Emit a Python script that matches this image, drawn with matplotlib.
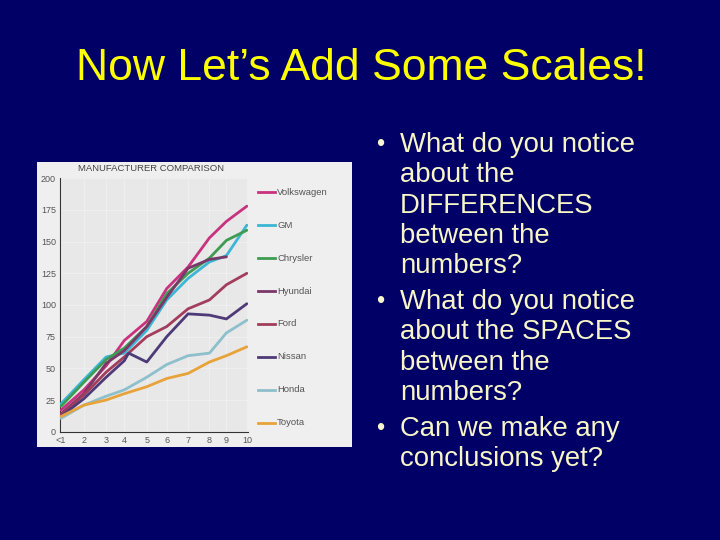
import matplotlib.pyplot as plt
from matplotlib.lines import Line2D

plt.rcParams['font.family'] = ['Liberation Sans', 'DejaVu Sans']

W, H = 720, 540
NAVY = '#000066'

# chart data (uneven x spacing as printed in the original figure)
years = ['<1', '2', '3', '4', '5', '6', '7', '8', '9', '10']
x_pos = [0, 1.0, 1.97, 2.76, 3.74, 4.61, 5.54, 6.47, 7.21, 8.1]

makers = ['Volkswagen', 'GM', 'Chrysler', 'Hyundai', 'Ford', 'Nissan', 'Honda', 'Toyota']
colors = ['#c8327e', '#3cb6d4', '#3e9c52', '#7a3868', '#a33d5c', '#4e3a78', '#8ebfcc', '#e8a23a']

volkswagen = [17, 33, 52, 72, 87, 113, 130, 153, 166, 178]
gm = [22, 41, 59, 62, 80, 104, 121, 134, 139, 163]
chrysler = [20, 39, 57, 66, 83, 109, 125, 137, 151, 159]
hyundai = [14, 30, 54, 64, 83, 106, 129, 136, 138]
ford = [13, 29, 47, 59, 75, 83, 97, 104, 116, 125]
nissan_x = [0, 1.0, 1.97, 2.76, 2.95, 3.74, 4.61, 5.54, 6.47, 7.21, 8.1]
nissan = [12, 26, 43, 56, 62, 55, 75, 93, 92, 89, 101]
honda = [10.5, 21, 28, 33, 43, 53, 60, 62, 78, 88]
toyota = [12, 21, 25, 30, 35.5, 42, 46, 55, 60, 67]

series = [
    (x_pos, volkswagen),
    (x_pos, gm),
    (x_pos, chrysler),
    (x_pos[:len(hyundai)], hyundai),
    (x_pos, ford),
    (nissan_x, nissan),
    (x_pos, honda),
    (x_pos, toyota),
]

title = 'Now Let\u2019s Add Some Scales!'
bullets = [
    ['What do you notice', 'about the', 'DIFFERENCES', 'between the', 'numbers?'],
    ['What do you notice', 'about the SPACES', 'between the', 'numbers?'],
    ['Can we make any', 'conclusions yet?'],
]


def fx(px):
    return px / W


def fy(py):
    return 1 - py / H


fig = plt.figure(figsize=(7.2, 5.4), dpi=100, facecolor=NAVY)

# slide title
fig.text(fx(361), fy(68), title, color='#ffff00', fontsize=32, ha='center', va='center')

# bullet list
y = 145
for group in bullets:
    for i, line in enumerate(group):
        if i == 0:
            fig.text(fx(380), fy(y), '\u2022', color='#f8f6c8', fontsize=17, ha='center', va='center')
        fig.text(fx(400), fy(y), line, color='#f8f6c8', fontsize=19.8, ha='left', va='center')
        y += 30.3
    y += 5.5

# scanned chart background
bg = fig.add_axes([fx(37), fy(447), fx(315), 285 / H])
bg.set_facecolor('#efefef')
bg.set_xticks([])
bg.set_yticks([])
for s in bg.spines.values():
    s.set_visible(False)

ax = fig.add_axes([fx(60), fy(431.7), fx(188), 253.4 / H])
ax.set_facecolor('#e8e8e8')
for (xs, ys), c in zip(series, colors):
    ax.plot(xs, ys, color=c, lw=2.0, solid_capstyle='round', zorder=3)

ax.set_xlim(-0.04, 8.15)
ax.set_ylim(0, 200)
ax.set_xticks(x_pos)
ax.set_xticklabels(years)
ax.set_yticks(range(0, 201, 25))
ax.tick_params(length=0, labelsize=6.5, labelcolor='#555555', pad=3)
ax.grid(color='white', lw=0.5, alpha=0.4)
for s in ['top', 'right']:
    ax.spines[s].set_visible(False)
ax.spines['left'].set_color('#333333')
ax.spines['bottom'].set_color('#333333')
ax.spines['left'].set_linewidth(0.8)
ax.spines['bottom'].set_linewidth(0.8)

fig.text(fx(78), fy(169), 'MANUFACTURER COMPARISON', color='#444444', fontsize=6.8,
         ha='left', va='center')

# legend drawn beside the plot
ly = 192.3
for name, c in zip(makers, colors):
    fig.add_artist(Line2D([fx(258), fx(275)], [fy(ly), fy(ly)], color=c, lw=2.0,
                          transform=fig.transFigure))
    fig.text(fx(277), fy(ly), name, color='#555555', fontsize=6.8, ha='left', va='center')
    ly += 32.9

plt.savefig('out.png', dpi=100, facecolor=NAVY)
